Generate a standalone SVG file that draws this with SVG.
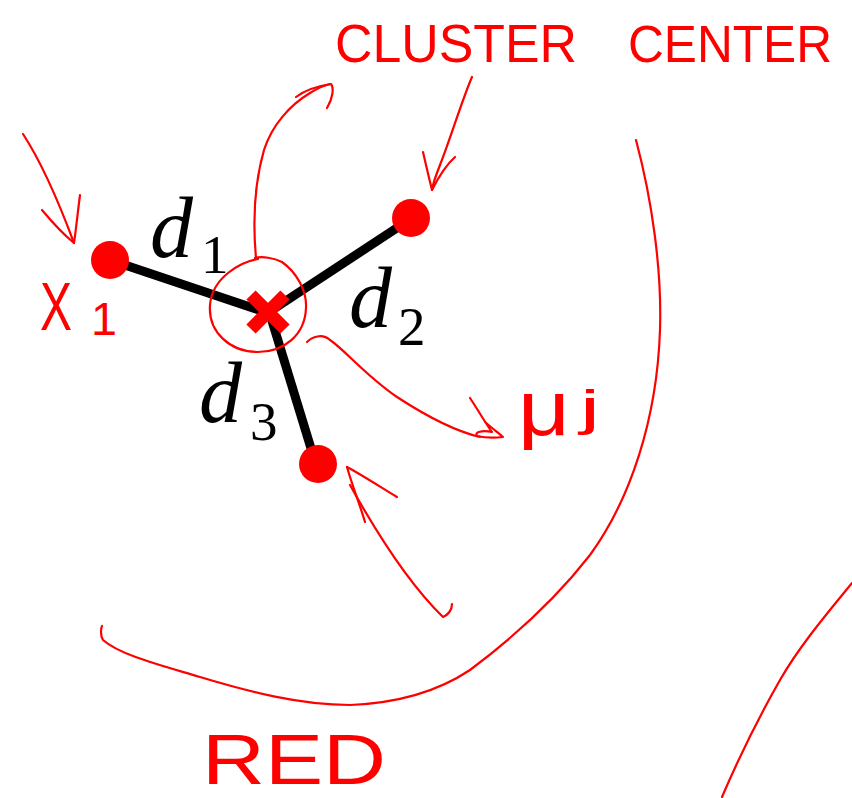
<svg xmlns="http://www.w3.org/2000/svg" width="852" height="798" viewBox="0 0 852 798">
<style>
.ink{fill:none;stroke:#f00;stroke-width:2.2;stroke-linecap:round;stroke-linejoin:round}
.hand{fill:#f00;font-family:"Liberation Sans",Arial,sans-serif}
.m{fill:#000;font-family:"Liberation Serif","Times New Roman",serif}
.pt{fill:#f00}
.edge{stroke:#000;stroke-width:9;stroke-linecap:butt}
</style>
<rect width="852" height="798" fill="#fff"/>
<g id="connectors">
<line class="edge" x1="107" y1="259" x2="268" y2="313"/>
<line class="edge" x1="409" y1="220" x2="266" y2="314"/>
<line class="edge" x1="269" y1="311" x2="317" y2="468"/>
</g>
<g id="node-x1"><circle class="pt" cx="110" cy="260" r="19"/></g>
<g id="node-p2"><circle class="pt" cx="411" cy="218" r="19"/></g>
<g id="node-p3"><circle class="pt" cx="318" cy="464" r="19"/></g>
<g id="node-center">
<line x1="251" y1="295" x2="285" y2="329" stroke="#f00" stroke-width="13"/>
<line x1="285" y1="295" x2="251" y2="329" stroke="#f00" stroke-width="13"/>
</g>
<g id="labels-d">
<text class="m" x="150" y="257" font-size="86" font-style="italic">d</text><text class="m" x="201" y="273" font-size="55">1</text>
<text class="m" x="349" y="327" font-size="86" font-style="italic">d</text><text class="m" x="398" y="345" font-size="55">2</text>
<text class="m" x="199" y="422" font-size="86" font-style="italic">d</text><text class="m" x="250" y="440" font-size="55">3</text>
</g>
<g id="annotations">
<path class="ink" d="M258,259 C240,262 212,278 210,305 C208,332 230,352 258,352 C284,352 305,335 306,308 C307,290 296,272 282,262 C274,258 262,256 255,258"/>
<path class="ink" d="M256,258 C253,225 254,185 264,150 C272,125 290,105 310,93 C318,88 326,85 330,84"/>
<path class="ink" d="M296,97 C305,90 318,86 331,84 C334,88 333,98 327,108"/>
<path class="ink" d="M472,77 C462,100 450,140 440,165 C436,175 433,183 432,190"/>
<path class="ink" d="M423,152 C426,165 429,178 432,190 C438,178 445,166 455,157"/>
<path class="ink" d="M23,134 C40,160 58,200 74,243"/>
<path class="ink" d="M42,210 C52,222 63,234 74,243 C76,230 78,210 80,195"/>
<path class="ink" d="M307,342 C312,337 322,333 330,340 C345,350 365,375 397,397 C420,412 450,430 480,437"/>
<path class="ink" d="M470,398 C478,410 486,424 492,432 C482,430 474,432 477,436 C486,438 495,438 503,437 C497,432 492,428 485,422"/>
<path class="ink" d="M347,467 C362,475 382,488 397,497"/>
<path class="ink" d="M347,467 C352,485 360,505 365,522"/>
<path class="ink" d="M350,485 C375,530 410,585 443,617 C448,615 452,610 452,604"/>
<path class="ink" d="M636,140 C652,200 662,270 660,330 C657,420 630,500 590,555 C555,600 510,640 470,670 C440,690 400,703 350,705 C300,705 250,692 200,677 C160,665 120,655 103,640 C100,635 101,628 102,626"/>
<path class="ink" d="M852,583 C830,610 800,645 780,680 C760,715 740,755 722,797"/>
<text class="hand" x="335" y="62" font-size="54" textLength="242" lengthAdjust="spacingAndGlyphs">CLUSTER</text>
<text class="hand" x="628" y="62" font-size="52" textLength="204" lengthAdjust="spacingAndGlyphs">CENTER</text>
<text class="hand" x="40" y="330" font-size="68" textLength="32" lengthAdjust="spacingAndGlyphs">X</text>
<text class="hand" x="91" y="335" font-size="46" textLength="26" lengthAdjust="spacingAndGlyphs">1</text>
<text class="hand" x="518" y="435" font-size="78" textLength="52" lengthAdjust="spacingAndGlyphs">μ</text>
<text class="hand" x="580" y="425" font-size="50" textLength="20" lengthAdjust="spacingAndGlyphs">j</text>
<text class="hand" x="202" y="784" font-size="70" textLength="184" lengthAdjust="spacingAndGlyphs">RED</text>
</g>
</svg>
